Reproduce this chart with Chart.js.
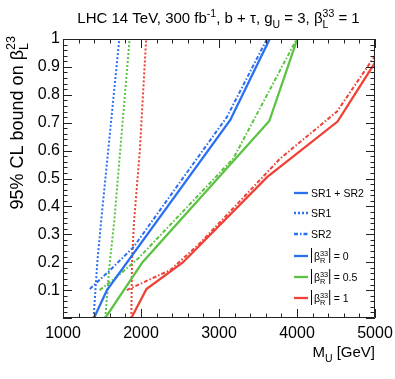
<!DOCTYPE html>
<html>
<head>
<meta charset="utf-8">
<script src="https://cdn.jsdelivr.net/npm/chart.js@4.4.1/dist/chart.umd.min.js"></script>
<style>
  html, body { margin: 0; padding: 0; background: #fff; }
  #wrap { width: 395px; height: 379px; }
</style>
</head>
<body>
<div id="wrap"><canvas id="c"></canvas></div>
<script>
// x: M_U [GeV], y: 95% CL bound on beta_L^23
// |beta_R^33| = 0  (blue)
const b0CombM = [1397, 1564, 3145, 3650];
const b0CombY = [0, 0.1, 0.71, 1.0];
const b0Sr1M = [1392, 1440, 1490, 1722];
const b0Sr1Y = [0, 0.2, 0.35, 1.0];
const b0Sr2M = [1344, 1606, 1906, 2500, 3100, 3615];
const b0Sr2Y = [0.104, 0.172, 0.255, 0.487, 0.72, 1.0];
// |beta_R^33| = 0.5  (green)
const b05CombM = [1542, 2020, 3645, 4004];
const b05CombY = [0, 0.2, 0.706, 1.0];
const b05Sr1M = [1542, 1600, 1658, 1854];
const b05Sr1Y = [0, 0.2, 0.35, 1.0];
const b05Sr2M = [1470, 1700, 1967, 3184, 3996];
const b05Sr2Y = [0.1, 0.15, 0.214, 0.572, 1.0];
// |beta_R^33| = 1  (red)
const b1CombM = [1876, 2070, 2540, 3620, 4520, 5000];
const b1CombY = [0, 0.104, 0.2, 0.506, 0.704, 0.915];
const b1Sr1M = [1876, 1885, 1912, 1985, 2066];
const b1Sr1Y = [0, 0.21, 0.35, 0.6, 1.0];
const b1Sr2M = [1818, 2376, 2756, 3272, 3786, 4513, 5000];
const b1Sr2Y = [0.1, 0.172, 0.268, 0.42, 0.572, 0.74, 0.94];

const xTicks = ['1000', '2000', '3000', '4000', '5000'];
const yTicks = ['0.1', '0.2', '0.3', '0.4', '0.5', '0.6', '0.7', '0.8', '0.9', '1'];

const BLUE = '#2b6ff2';
const GREEN = '#5cc243';
const RED = '#ef4136';
const FONT = '"Liberation Sans", Arial, Helvetica, sans-serif';
const DOT = [2, 2];
const DASHDOT = [4, 2, 1.5, 2];

function pts(ms, ys) {
  return ms.map((m, i) => ({ x: m, y: ys[i] }));
}

function line(ms, ys, color, dash) {
  return {
    data: pts(ms, ys),
    borderColor: color,
    borderWidth: dash ? 2 : 2.3,
    borderDash: dash || [],
    pointRadius: 0,
    fill: false,
    tension: 0
  };
}

function pickLabel(list, v) {
  return list.find(t => Math.abs(parseFloat(t) - v) < 1e-9) || '';
}

// text with stacked super/subscripts, y = baseline
function richWidth(ctx, parts, size) {
  let w = 0;
  parts.forEach(p => {
    ctx.font = size + 'px ' + FONT;
    w += ctx.measureText(p.t).width;
    ctx.font = (size * 0.7) + 'px ' + FONT;
    const a = p.sup ? ctx.measureText(p.sup).width : 0;
    const b = p.sub ? ctx.measureText(p.sub).width : 0;
    w += Math.max(a, b);
  });
  return w;
}

function drawRich(ctx, parts, x, y, size) {
  parts.forEach(p => {
    ctx.font = size + 'px ' + FONT;
    ctx.fillText(p.t, x, y);
    x += ctx.measureText(p.t).width;
    ctx.font = (size * 0.7) + 'px ' + FONT;
    let a = 0, b = 0;
    if (p.sup) { ctx.fillText(p.sup, x, y - size * 0.42); a = ctx.measureText(p.sup).width; }
    if (p.sub) { ctx.fillText(p.sub, x, y + size * 0.3); b = ctx.measureText(p.sub).width; }
    x += Math.max(a, b);
  });
  return x;
}

const decorations = {
  id: 'decorations',
  afterDraw(chart) {
    const ctx = chart.ctx;
    const ca = chart.chartArea;
    const xs = chart.scales.x, ys = chart.scales.y;
    ctx.save();
    ctx.strokeStyle = '#222';
    ctx.fillStyle = '#000';
    ctx.lineWidth = 1;
    ctx.setLineDash([]);
    ctx.beginPath();
    ctx.rect(ca.left + 0.5, ca.top + 0.5, ca.right - ca.left - 1, ca.bottom - ca.top - 1);

    // inward ticks on all four sides
    for (let m = 1000; m <= 5000; m += 200) {
      const px = Math.round(xs.getPixelForValue(m)) + 0.5;
      const len = m % 1000 === 0 ? 9 : 4.5;
      ctx.moveTo(px, ca.bottom); ctx.lineTo(px, ca.bottom - len);
      ctx.moveTo(px, ca.top); ctx.lineTo(px, ca.top + len);
    }
    for (let k = 0; k <= 50; k++) {
      const py = Math.round(ys.getPixelForValue(k * 0.02)) + 0.5;
      const len = k % 5 === 0 ? 9 : 4.5;
      ctx.moveTo(ca.left, py); ctx.lineTo(ca.left + len, py);
      ctx.moveTo(ca.right, py); ctx.lineTo(ca.right - len, py);
    }
    ctx.stroke();

    // title
    ctx.textBaseline = 'alphabetic';
    ctx.textAlign = 'left';
    const title = [
      { t: 'LHC 14 TeV, 300 fb', sup: '-1' },
      { t: ', b + \u03c4, g', sub: 'U' },
      { t: ' = 3, \u03b2', sup: '33', sub: 'L' },
      { t: ' = 1' }
    ];
    const tw = richWidth(ctx, title, 15);
    drawRich(ctx, title, 218.5 - tw / 2, 23, 15);

    // x title
    const xt = [{ t: 'M', sub: 'U' }, { t: ' [GeV]' }];
    drawRich(ctx, xt, ca.right - richWidth(ctx, xt, 15), 357, 15);

    // y title
    const yt = [{ t: '95% CL bound on \u03b2', sup: '23', sub: 'L' }];
    const yw = richWidth(ctx, yt, 18);
    ctx.save();
    ctx.translate(23, 36);
    ctx.rotate(-Math.PI / 2);
    drawRich(ctx, yt, -yw, 0, 18);
    ctx.restore();

    // legend
    const lx0 = 294, lx1 = 308, tx = 311, fs = 10.5;
    const items = [
      { y: 193, c: BLUE, d: [], label: 'SR1 + SR2' },
      { y: 213, c: BLUE, d: DOT, label: 'SR1' },
      { y: 234, c: BLUE, d: DASHDOT, label: 'SR2' },
      { y: 256, c: BLUE, d: [], val: '0' },
      { y: 277, c: GREEN, d: [], val: '0.5' },
      { y: 298, c: RED, d: [], val: '1' }
    ];
    items.forEach(it => {
      ctx.beginPath();
      ctx.strokeStyle = it.c;
      ctx.lineWidth = 2.3;
      ctx.setLineDash(it.d);
      ctx.moveTo(lx0, it.y); ctx.lineTo(lx1, it.y);
      ctx.stroke();
      ctx.setLineDash([]);
      ctx.fillStyle = '#000';
      if (it.label) {
        ctx.font = fs + 'px ' + FONT;
        ctx.fillText(it.label, tx, it.y + 4);
      } else {
        ctx.strokeStyle = '#000';
        ctx.lineWidth = 1;
        ctx.beginPath();
        ctx.moveTo(tx + 0.5, it.y - 8); ctx.lineTo(tx + 0.5, it.y + 7);
        const x2 = drawRich(ctx, [{ t: '\u03b2', sup: '33', sub: 'R' }], tx + 3, it.y + 4, fs);
        ctx.moveTo(x2 + 1.5, it.y - 8); ctx.lineTo(x2 + 1.5, it.y + 7);
        ctx.stroke();
        ctx.font = fs + 'px ' + FONT;
        ctx.fillText(' = ' + it.val, x2 + 2.5, it.y + 4);
      }
    });
    ctx.restore();
  }
};

new Chart(document.getElementById('c'), {
  type: 'line',
  data: {
    datasets: [
      line(b0CombM, b0CombY, BLUE),
      line(b0Sr1M, b0Sr1Y, BLUE, DOT),
      line(b0Sr2M, b0Sr2Y, BLUE, DASHDOT),
      line(b05CombM, b05CombY, GREEN),
      line(b05Sr1M, b05Sr1Y, GREEN, DOT),
      line(b05Sr2M, b05Sr2Y, GREEN, DASHDOT),
      line(b1CombM, b1CombY, RED),
      line(b1Sr1M, b1Sr1Y, RED, DOT),
      line(b1Sr2M, b1Sr2Y, RED, DASHDOT)
    ]
  },
  options: {
    responsive: true,
    maintainAspectRatio: false,
    animation: false,
    layout: { padding: { left: 0, right: 20, top: 39, bottom: 0 } },
    plugins: { legend: { display: false }, tooltip: { enabled: false } },
    scales: {
      x: {
        type: 'linear', min: 1000, max: 5000,
        grid: { display: false, drawTicks: false },
        border: { display: false },
        afterBuildTicks: s => { s.ticks = xTicks.map(v => ({ value: parseFloat(v) })); },
        ticks: {
          color: '#000', font: { family: FONT, size: 16 }, padding: 6, maxRotation: 0,
          callback: v => pickLabel(xTicks, v)
        },
        afterFit: s => { s.height = 61; s.paddingLeft = 0; s.paddingRight = 0; }
      },
      y: {
        type: 'linear', min: 0, max: 1,
        grid: { display: false, drawTicks: false },
        border: { display: false },
        afterBuildTicks: s => { s.ticks = yTicks.map(v => ({ value: parseFloat(v) })); },
        ticks: {
          color: '#000', font: { family: FONT, size: 16 }, padding: 3,
          callback: v => pickLabel(yTicks, v)
        },
        afterFit: s => { s.width = 63; s.paddingTop = 0; s.paddingBottom = 0; }
      }
    }
  },
  plugins: [decorations]
});
</script>
</body>
</html>
